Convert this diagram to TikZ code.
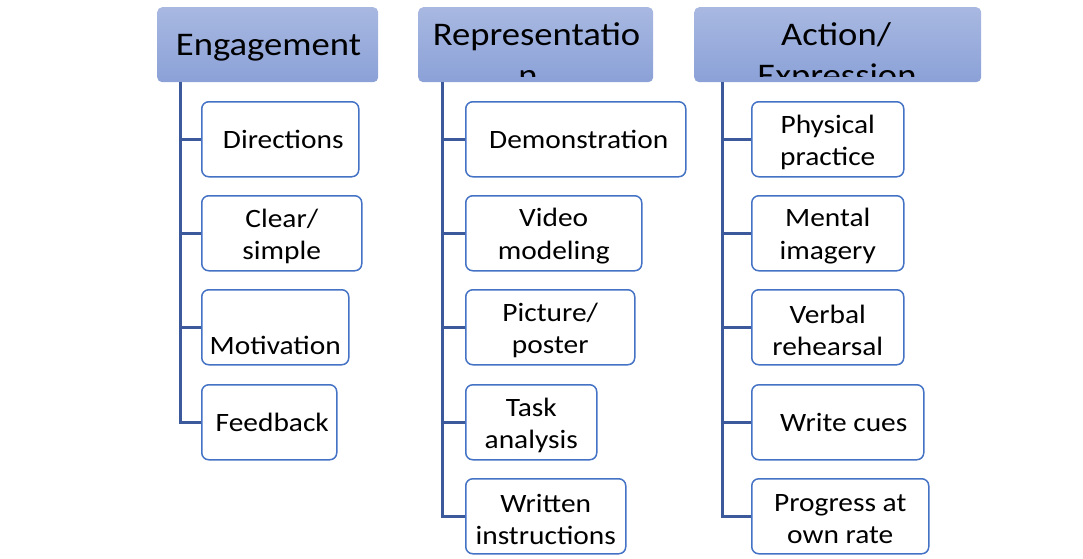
\documentclass[tikz,border=0pt]{standalone}
\usepackage{fontspec}
\setmainfont{Carlito}[FakeStretch=1.11]
\definecolor{hdtop}{RGB}{168,184,225}
\definecolor{hdbot}{RGB}{139,161,215}
\definecolor{cbord}{RGB}{68,114,196}
\definecolor{trunk}{RGB}{60,90,155}
% two-line item label, set slightly low in its box
\newcommand\twoline[2]{\raisebox{-3pt}[\height][\depth]{#1}\\\raisebox{-3pt}[\height][\depth]{#2}}
\tikzset{
  head/.style={rounded corners=5pt, top color=hdtop, bottom color=hdbot,
    draw=none, anchor=north west, inner sep=0pt, minimum height=75pt},
  headtext/.style={anchor=base, inner sep=0pt, font=\fontsize{33}{41}\selectfont},
  child/.style={draw=cbord, line width=1.5pt, fill=white, rounded corners=7pt,
    anchor=north west, inner sep=0pt, minimum height=75pt, align=center,
    font=\fontsize{26.5}{32.5}\selectfont},
  conn/.style={draw=trunk, line width=3pt},
}
\begin{document}
\begin{tikzpicture}[x=1pt,y=-1pt]
\useasboundingbox (0,0) rectangle (1083,558);

% column headers
\node[head, minimum width=221pt] (hE) at (157,7) {};
\node[head, minimum width=235pt] (hR) at (418,7) {};
\node[head, minimum width=287pt] (hA) at (694,7) {};

\begin{scope}
  \clip (150,0) rectangle (990,76);
  \node[headtext] (hEt) at (268.5,55) {Engagement};
  \node[headtext] (hRa) at (536.5,45.5) {Representatio};
  \node[headtext] (hRb) at (528,86) {n};
  \node[headtext] (hAa) at (836,45.5) {Action/};
  \node[headtext] (hAb) at (837,86) {Expression};
\end{scope}

% trunk start points under the headers
\coordinate (tE) at (180,82);
\coordinate (tR) at (442,82);
\coordinate (tA) at (722,82);

% Engagement items
\node[child, minimum width=157pt] (e1) at (201,101) {\hspace*{6pt}Directions};
\node[child, minimum width=160pt] (e2) at (201,195) {\twoline{Clear/}{simple}};
\node[child, minimum width=147pt] (e3) at (201,289) {\raisebox{-18pt}[\height][\depth]{Motivation}};
\node[child, minimum width=135pt] (e4) at (201,384) {\hspace*{6pt}Feedback};

% Representation items
\node[child, minimum width=220pt] (r1) at (465,101) {\hspace*{6pt}Demonstration};
\node[child, minimum width=176pt] (r2) at (465,195) {\twoline{Video}{modeling}};
\node[child, minimum width=169pt] (r3) at (465,289) {\twoline{Picture/}{poster}};
\node[child, minimum width=131pt] (r4) at (465,384) {\twoline{Task}{analysis}};
\node[child, minimum width=160pt] (r5) at (465,478) {\twoline{Written}{instructions}};

% Action/Expression items
\node[child, minimum width=152pt] (a1) at (751,101) {\twoline{Physical}{practice}};
\node[child, minimum width=152pt] (a2) at (751,195) {\twoline{Mental}{imagery}};
\node[child, minimum width=152pt] (a3) at (751,289) {\twoline{Verbal}{rehearsal}};
\node[child, minimum width=172pt] (a4) at (751,384) {\hspace*{12pt}Write cues};
\node[child, minimum width=177pt] (a5) at (751,478) {\twoline{Progress at}{own rate}};

% connectors
\draw[conn] (tE) |- (e4.west);
\foreach \c in {e1,e2,e3} \draw[conn] (tE |- \c.west) -- (\c.west);
\draw[conn] (tR) |- (r5.west);
\foreach \c in {r1,r2,r3,r4} \draw[conn] (tR |- \c.west) -- (\c.west);
\draw[conn] (tA) |- (a5.west);
\foreach \c in {a1,a2,a3,a4} \draw[conn] (tA |- \c.west) -- (\c.west);
\end{tikzpicture}
\end{document}
